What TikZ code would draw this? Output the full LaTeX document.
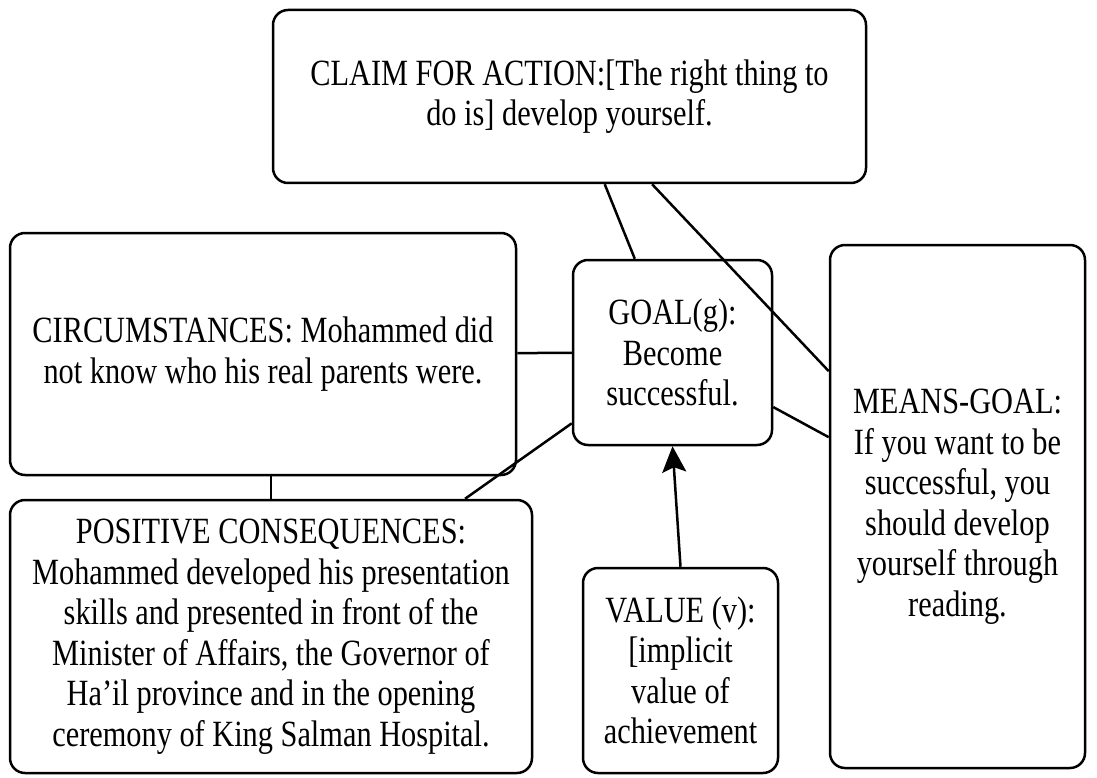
\documentclass[tikz,border=0pt]{standalone}
\usepackage{fontspec}
\setmainfont{Liberation Serif}[FakeStretch=0.82]
\usetikzlibrary{arrows.meta}
\begin{document}
\begin{tikzpicture}[x=1pt,y=-1pt,
  box/.style={draw, line width=2.5pt, rounded corners=15pt, inner sep=0pt,
    align=center, font=\fontsize{37}{40.5}\selectfont},
  link/.style={line width=2.5pt},
  arrowlink/.style={line width=2.5pt, -{Stealth[length=26pt,width=24pt,inset=5pt]}}]
\useasboundingbox (0,0) rectangle (1097,778);

% argument components
\node[box, minimum width=593pt, minimum height=173pt] (claim) at (569.5,96.5)
  {CLAIM FOR ACTION:[The right thing to\\do is] develop yourself.};
\node[box, minimum width=506pt, minimum height=242pt] (circ) at (263,354)
  {CIRCUMSTANCES: Mohammed did\\not know who his real parents were.};
\node[box, minimum width=199pt, minimum height=185pt] (goal) at (672.5,352.5)
  {GOAL(g):\\Become\\successful.};
\node[box, minimum width=255pt, minimum height=523pt] (means) at (957.5,506.5)
  {MEANS-GOAL:\\If you want to be\\successful, you\\should develop\\yourself through\\reading.};
\node[box, minimum width=522pt, minimum height=273pt] (pos) at (271,636.5)
  {POSITIVE CONSEQUENCES:\\Mohammed developed his presentation\\skills and presented in front of the\\Minister of Affairs, the Governor of\\Ha'il province and in the opening\\ceremony of King Salman Hospital.};
\node[box, minimum width=195pt, minimum height=205pt] (value) at (680.5,670.5)
  {VALUE (v):\\{[}implicit\\value of\\achievement};

% links between components
\draw[link] (claim) -- (goal);
\draw[link] (claim) -- (means);
\draw[link] (circ) -- (goal);
\draw[link] (goal) -- (means);
\draw[link] (goal) -- (pos);
\draw[link] (pos.north |- circ.south) -- (pos.north);
\draw[arrowlink] (value.north) -- (goal.south);
\end{tikzpicture}
\end{document}
